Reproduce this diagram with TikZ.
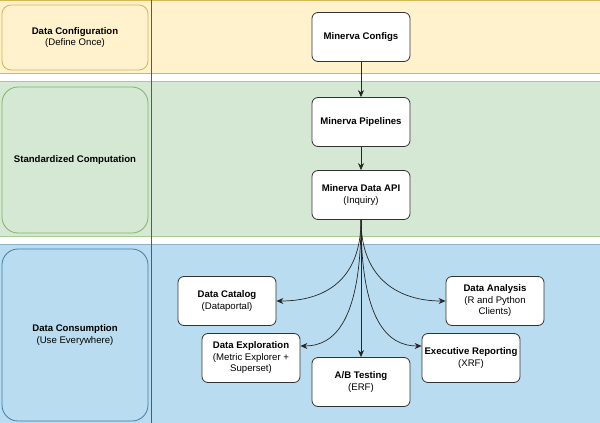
\documentclass[tikz,border=0pt]{standalone}
\usepackage{fontspec}
\setmainfont{Liberation Sans}
\usetikzlibrary{arrows.meta}

\definecolor{cfgfill}{HTML}{FFF2CC}
\definecolor{cfgline}{HTML}{D6B656}
\definecolor{compfill}{HTML}{D5E8D4}
\definecolor{compline}{HTML}{82B366}
\definecolor{usefill}{HTML}{B9DCF0}
\definecolor{useline}{HTML}{3F7FAA}

\begin{document}
\begin{tikzpicture}[x=1pt,y=-1pt,
    >={Stealth[length=7pt,width=6pt]},
    box/.style={draw=black!80,fill=white,rounded corners=6pt,line width=0.8pt,
      minimum width=98pt,minimum height=49pt,inner sep=2pt,align=center},
    lane/.style={rounded corners=16pt,line width=0.8pt,minimum width=146pt,align=center},
    link/.style={->,draw=black!85,line width=0.7pt}]
         \fontsize{9.6}{11.5}\selectfont
         \useasboundingbox (0,0) rectangle (600,423);

         % bands
         \fill[cfgfill] (0,0) rectangle (600,73);
         \draw[cfgline] (0,0.5) -- (600,0.5) (0,73) -- (600,73);
         \fill[compfill] (0,81) rectangle (600,236);
         \draw[compline!70] (0,81) -- (600,81) (0,236) -- (600,236);
         \fill[usefill] (0,244) rectangle (600,423);
         \draw[useline!60] (0,244) -- (600,244);
         \draw[black!65,line width=0.8pt] (151,0) -- (151,423);

         \node[lane,draw=cfgline,fill=cfgfill,minimum height=65pt,rounded corners=9pt] at (75,37.5) (L1) {\textbf{Data Configuration}\\(Define Once)};
         \node[lane,draw=compline,fill=compfill,minimum height=146pt] at (75,160) (L2) {\textbf{Standardized Computation}};
         \node[lane,draw=useline,fill=usefill,minimum height=172pt] at (75,335) (L3) {\textbf{Data Consumption}\\(Use Everywhere)};

         \node[box] at (361,37) (A) {\textbf{Minerva Configs}};
         \node[box] at (361,122) (B) {\textbf{Minerva Pipelines}};
         \node[box] at (361,195) (C) {\textbf{Minerva Data API}\\(Inquiry)};
         \node[box] at (227,301) (D) {\textbf{Data Catalog}\\(Dataportal)};
         \node[box] at (251,358) (E) {\textbf{Data Exploration}\\(Metric Explorer +\\Superset)};
         \node[box] at (361,382) (F) {\textbf{A/B Testing}\\(ERF)};
         \node[box] at (471,358) (G) {\textbf{Executive Reporting}\\(XRF)};
         \node[box] at (495,301) (H) {\textbf{Data Analysis}\\(R and Python\\Clients)};

         \draw[link] (A) -- (B);
         \draw[link] (B) -- (C);
         \draw[link] (C) -- (F);
         \draw[link] (C.south) .. controls (361,280) and (325,301) .. (D.east);
         \draw[link] (C.south) .. controls (361,320) and (335,346) .. ([yshift=12pt]E.east);
         \draw[link] (C.south) .. controls (361,320) and (387,346) .. ([yshift=12pt]G.west);
         \draw[link] (C.south) .. controls (361,280) and (400,301) .. (H.west);
      \end{tikzpicture}
\end{document}
